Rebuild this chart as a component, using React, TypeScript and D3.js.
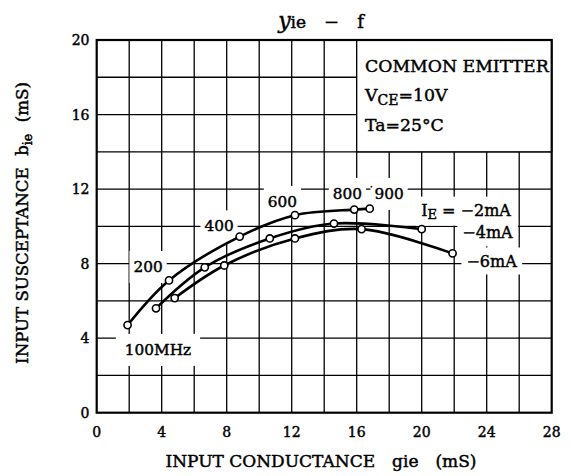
import React, { useEffect, useRef } from "react";
import * as d3 from "d3";

// ---- data ----
const gTicks = [0, 4, 8, 12, 16, 20, 24, 28];
const bTicks = [0, 4, 8, 12, 16, 20];
const gridG = [2, 4, 6, 8, 10, 12, 14, 16, 18, 20, 22, 24, 26];
const gridB = [2, 4, 6, 8, 10, 12, 14, 16, 18];

const g2mA = [1.9, 4.45, 8.8, 12.2, 15.85, 16.8];
const b2mA = [4.7, 7.1, 9.45, 10.6, 10.9, 10.95];
const g4mA = [3.65, 6.65, 10.65, 14.6, 20.0];
const b4mA = [5.6, 7.8, 9.35, 10.15, 9.85];
const g6mA = [4.8, 7.85, 12.2, 16.3, 21.9];
const b6mA = [6.15, 7.9, 9.35, 9.85, 8.55];

// annotation labels: text and anchor in data units (g, b)
const freqLabels = ["100MHz", "200", "400", "600", "800", "900"];
const freqLabelG = [3.77, 3.16, 7.53, 11.43, 15.43, 17.99];
const freqLabelB = [3.37, 7.82, 10.0, 11.31, 11.74, 11.74];
const currentLabels = ["−2mA", "−4mA", "−6mA"];
const currentLabelG = [22.73, 24.05, 24.3];
const currentLabelB = [10.87, 9.65, 8.14];

const FONT = "'DejaVu Serif', 'Liberation Serif', serif";
const TS = 0.45; // text stroke for a medium-bold look

export default function App() {
  const ref = useRef<SVGSVGElement | null>(null);

  useEffect(() => {
    const svg = d3.select(ref.current);
    svg.selectAll("*").remove();

    const x = d3.scaleLinear().domain([0, 28]).range([96.7, 551.7]);
    const y = d3.scaleLinear().domain([0, 20]).range([412.7, 40]);

    const root = svg.append("g").attr("font-family", FONT).attr("fill", "#000");

    // grid
    const grid = root.append("g").attr("stroke", "#000").attr("stroke-width", 1.3);
    gridG.forEach((v) =>
      grid.append("line").attr("x1", x(v)).attr("x2", x(v)).attr("y1", y(0)).attr("y2", y(20))
    );
    gridB.forEach((v) =>
      grid.append("line").attr("x1", x(0)).attr("x2", x(28)).attr("y1", y(v)).attr("y2", y(v))
    );

    // legend box (covers grid in the upper-right)
    root
      .append("rect")
      .attr("x", x(16))
      .attr("y", y(20))
      .attr("width", x(28) - x(16))
      .attr("height", y(14) - y(20))
      .attr("fill", "#fff")
      .attr("stroke", "#000")
      .attr("stroke-width", 1.3);

    const legend = root
      .append("g")
      .attr("font-size", 17.3)
      .attr("stroke", "#000")
      .attr("stroke-width", TS);
    legend.append("text").attr("x", 365).attr("y", 72).text("COMMON EMITTER");
    const vce = legend.append("text").attr("x", 365).attr("y", 101);
    vce.append("tspan").text("V");
    vce.append("tspan").attr("font-size", 14).attr("dy", 4).text("CE");
    vce.append("tspan").attr("dy", -4).text("=10V");
    legend.append("text").attr("x", 365).attr("y", 131).text("Ta=25°C");

    // annotation labels with white backgrounds
    const labelLayer = root.append("g");
    const textLayer = root
      .append("g")
      .attr("font-size", 15.3)
      .attr("stroke", "#000")
      .attr("stroke-width", TS);

    const addLabel = (
      build: (t: any) => void,
      cx: number,
      cy: number,
      padX: number,
      padY: number,
      size: number
    ) => {
      const t = textLayer
        .append("text")
        .attr("x", cx)
        .attr("y", cy)
        .attr("font-size", size)
        .attr("text-anchor", "middle")
        .attr("dominant-baseline", "central");
      build(t);
      const bb = (t.node() as SVGTextElement).getBBox();
      labelLayer
        .append("rect")
        .attr("x", bb.x - padX)
        .attr("y", bb.y - padY)
        .attr("width", bb.width + 2 * padX)
        .attr("height", bb.height + 2 * padY)
        .attr("fill", "#fff");
    };

    freqLabels.forEach((s, i) => {
      const pad = i === 0 ? 9 : 4;
      addLabel((t) => t.text(s), x(freqLabelG[i]), y(freqLabelB[i]), pad, 7, 15.3);
    });
    // small speck between 800 and 900
    textLayer
      .append("text")
      .attr("x", x(16.9))
      .attr("y", y(11.95))
      .attr("text-anchor", "middle")
      .attr("font-size", 10)
      .text("·");

    currentLabels.forEach((s, i) => {
      addLabel(
        (t) => {
          if (i === 0) {
            t.append("tspan").text("I");
            t.append("tspan").attr("font-size", 13).attr("dy", 4).text("E");
            t.append("tspan").attr("dy", -4).text(" = " + s);
          } else {
            t.text(s);
          }
        },
        x(currentLabelG[i]),
        y(currentLabelB[i]),
        5,
        4,
        16
      );
    });

    // curves
    const series = [
      { g: g2mA, b: b2mA },
      { g: g4mA, b: b4mA },
      { g: g6mA, b: b6mA },
    ];
    const line = d3
      .line<[number, number]>()
      .x((d) => x(d[0]))
      .y((d) => y(d[1]))
      .curve(d3.curveCatmullRom.alpha(0.5));
    const curves = root.append("g");
    series.forEach((s) => {
      const pts: [number, number][] = s.g.map((g, i) => [g, s.b[i]]);
      curves
        .append("path")
        .attr("d", line(pts))
        .attr("fill", "none")
        .attr("stroke", "#000")
        .attr("stroke-width", 2.6);
    });
    series.forEach((s) => {
      s.g.forEach((g, i) => {
        curves
          .append("circle")
          .attr("cx", x(g))
          .attr("cy", y(s.b[i]))
          .attr("r", 3.6)
          .attr("fill", "#fff")
          .attr("stroke", "#000")
          .attr("stroke-width", 1.6);
      });
    });

    // bring label text above curves
    (textLayer.node() as SVGGElement).parentNode!.appendChild(textLayer.node() as SVGGElement);

    // border
    root
      .append("rect")
      .attr("x", x(0))
      .attr("y", y(20))
      .attr("width", x(28) - x(0))
      .attr("height", y(0) - y(20))
      .attr("fill", "none")
      .attr("stroke", "#000")
      .attr("stroke-width", 2.2);

    // ticks
    const ticks = root
      .append("g")
      .attr("font-size", 14)
      .attr("stroke", "#000")
      .attr("stroke-width", TS);
    gTicks.forEach((v) =>
      ticks.append("text").attr("x", x(v)).attr("y", 436.5).attr("text-anchor", "middle").text(String(v))
    );
    bTicks.forEach((v) =>
      ticks
        .append("text")
        .attr("x", 89.5)
        .attr("y", y(v))
        .attr("dy", "0.36em")
        .attr("text-anchor", "end")
        .text(String(v))
    );

    // axis labels
    const axisG = root
      .append("g")
      .attr("font-size", 17)
      .attr("stroke", "#000")
      .attr("stroke-width", TS);
    const xl = axisG.append("text").attr("x", 321).attr("y", 466.5).attr("text-anchor", "middle");
    xl.text("INPUT CONDUCTANCE\u2003gie\u2003(mS)");
    const yl = axisG
      .append("text")
      .attr("font-size", 16.6)
      .attr("transform", "translate(28,223) rotate(-90)")
      .attr("text-anchor", "middle");
    yl.append("tspan").text("INPUT SUSCEPTANCE\u2002\u2009b");
    yl.append("tspan").attr("font-size", 12.5).attr("dy", 4).text("ie");
    yl.append("tspan").attr("dy", -4).text("\u2002\u2009(mS)");

    // title
    const title = root
      .append("text")
      .attr("x", 321)
      .attr("y", 28)
      .attr("text-anchor", "middle")
      .attr("stroke", "#000")
      .attr("stroke-width", TS);
    title.append("tspan").attr("font-size", 22).attr("font-style", "italic").text("y");
    title.append("tspan").attr("font-size", 17).text("ie");
    title.append("tspan").attr("font-size", 18).text("\u2003−\u2003f");
  }, []);

  return (
    <svg
      ref={ref}
      width={571}
      height={476}
      style={{ position: "absolute", left: 0, top: 0, background: "#fff" }}
    />
  );
}
